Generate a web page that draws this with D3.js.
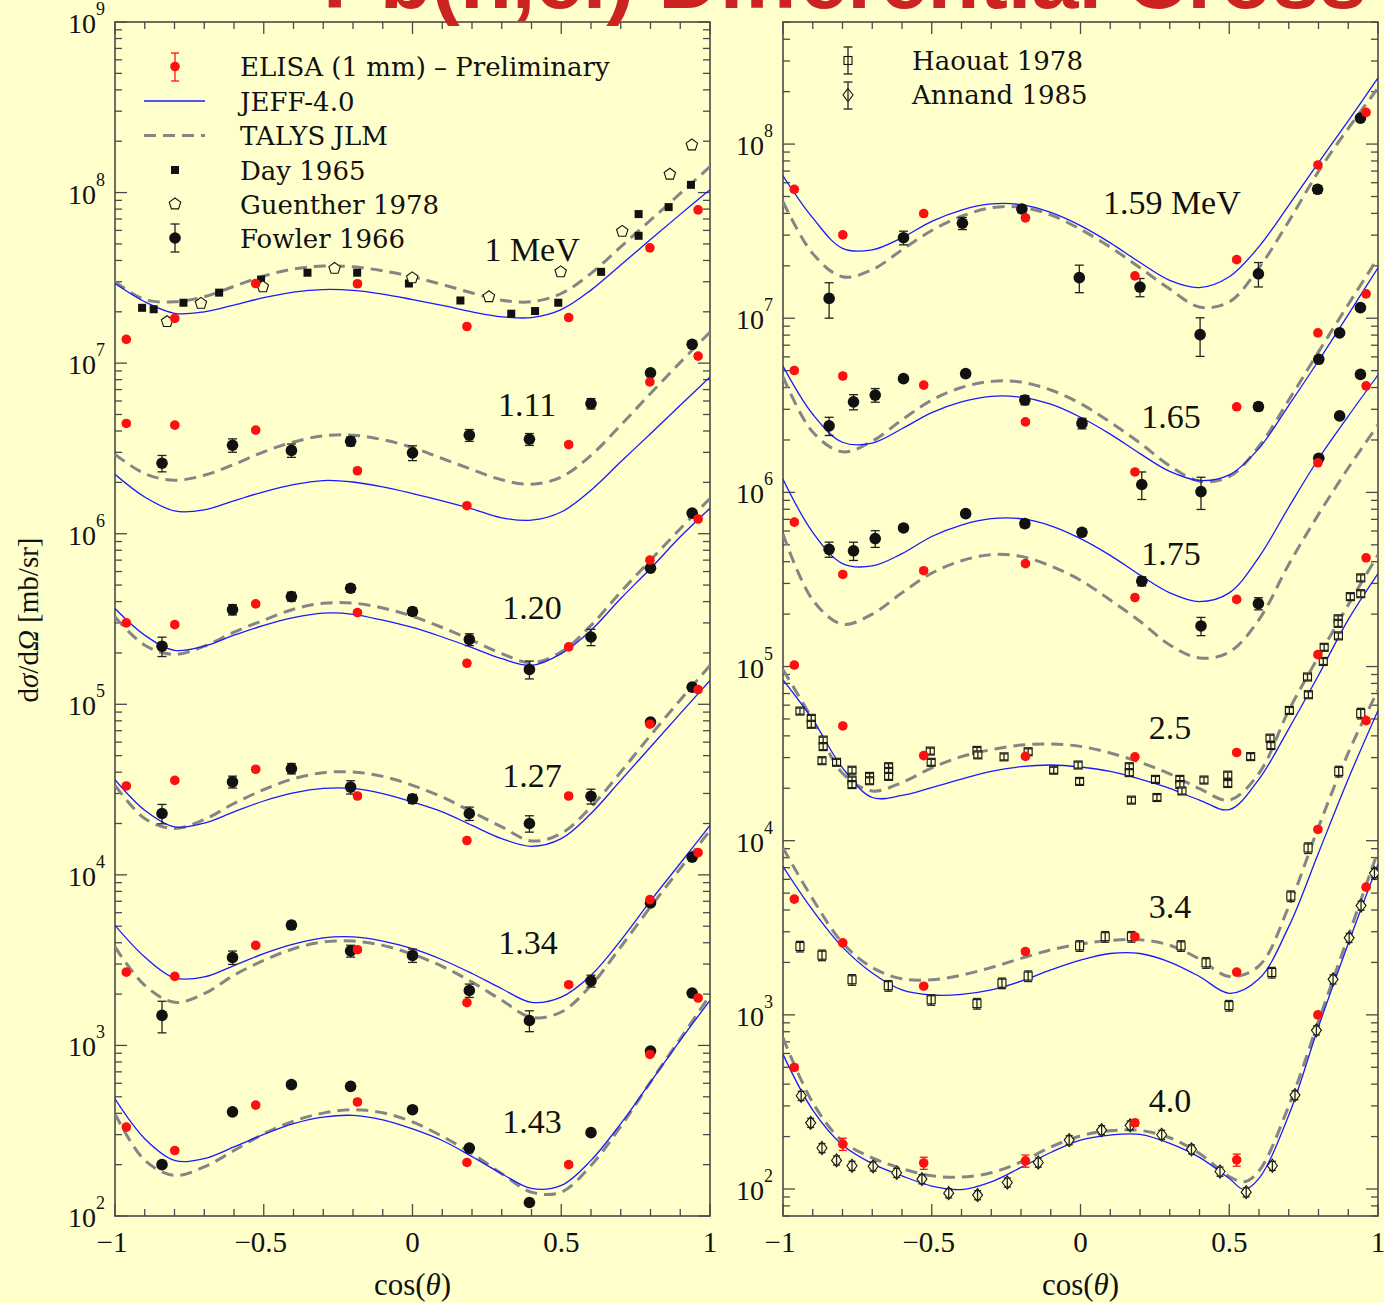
<!DOCTYPE html>
<html><head><meta charset="utf-8">
<script src="https://cdn.jsdelivr.net/npm/d3@7"></script>
<style>html,body{margin:0;padding:0;background:#ffffcc;} svg{display:block}</style>
</head><body>
<script>
// ---------------- DATA ----------------
const curveCos = [-1,-0.9,-0.8,-0.7,-0.6,-0.5,-0.4,-0.3,-0.2,-0.1,0,0.1,0.2,0.3,0.4,0.5,0.6,0.7,0.8,0.9,1];
const curveCos40 = [-1,-0.9,-0.8,-0.7,-0.6,-0.5,-0.4,-0.3,-0.2,-0.1,0,0.1,0.2,0.3,0.4,0.5,0.55,0.6,0.7,0.8,0.9,1];

// JEFF-4.0 (blue) and TALYS JLM (dashed) curves, mb/sr
const jeff100 = [2.93e7,2.29e7,1.96e7,2.00e7,2.19e7,2.42e7,2.61e7,2.70e7,2.67e7,2.54e7,2.36e7,2.18e7,2.00e7,1.87e7,1.85e7,2.06e7,2.68e7,3.76e7,5.31e7,7.45e7,1.04e8];
const talys100 = [3.00e7,2.36e7,2.29e7,2.45e7,2.82e7,3.24e7,3.56e7,3.71e7,3.67e7,3.48e7,3.21e7,2.89e7,2.58e7,2.34e7,2.29e7,2.56e7,3.36e7,4.81e7,6.89e7,9.88e7,1.42e8];
const jeff111 = [2.23e6,1.64e6,1.36e6,1.38e6,1.56e6,1.76e6,1.94e6,2.05e6,2.01e6,1.88e6,1.72e6,1.56e6,1.40e6,1.24e6,1.20e6,1.34e6,1.80e6,2.64e6,3.86e6,5.66e6,8.31e6];
const talys111 = [2.92e6,2.25e6,2.06e6,2.20e6,2.55e6,3.02e6,3.45e6,3.75e6,3.78e6,3.56e6,3.20e6,2.76e6,2.38e6,2.07e6,1.95e6,2.15e6,2.88e6,4.33e6,6.64e6,1.01e7,1.52e7];
const jeff120 = [3.64e5,2.54e5,2.07e5,2.19e5,2.54e5,2.90e5,3.22e5,3.42e5,3.37e5,3.11e5,2.82e5,2.48e5,2.15e5,1.85e5,1.69e5,1.98e5,2.72e5,4.17e5,6.25e5,9.59e5,1.41e6];
const talys120 = [3.25e5,2.22e5,1.96e5,2.19e5,2.65e5,3.11e5,3.61e5,3.91e5,3.92e5,3.67e5,3.28e5,2.82e5,2.37e5,1.98e5,1.75e5,2.03e5,2.90e5,4.56e5,7.00e5,1.07e6,1.61e6];
const jeff127 = [3.61e4,2.39e4,1.91e4,2.01e4,2.34e4,2.71e4,3.02e4,3.21e4,3.21e4,2.99e4,2.67e4,2.34e4,1.95e4,1.63e4,1.47e4,1.63e4,2.29e4,3.58e4,5.62e4,8.81e4,1.38e5];
const talys127 = [3.35e4,2.14e4,1.87e4,2.11e4,2.62e4,3.16e4,3.66e4,3.97e4,4.01e4,3.78e4,3.35e4,2.86e4,2.34e4,1.91e4,1.58e4,1.75e4,2.50e4,4.01e4,6.58e4,1.06e5,1.69e5];
const jeff134 = [5.06e3,3.30e3,2.49e3,2.52e3,2.94e3,3.45e3,3.92e3,4.27e3,4.33e3,4.09e3,3.69e3,3.18e3,2.64e3,2.15e3,1.79e3,1.92e3,2.58e3,4.13e3,7.03e3,1.17e4,1.95e4];
const talys134 = [3.78e3,2.25e3,1.79e3,2.01e3,2.58e3,3.15e3,3.69e3,4.04e3,4.09e3,3.86e3,3.42e3,2.91e3,2.35e3,1.84e3,1.46e3,1.57e3,2.25e3,3.78e3,6.49e3,1.09e4,1.82e4];
const jeff143 = [486,284,212,217,254,301,348,380,389,366,324,277,223,177,145,151,212,348,610,1072,1837];
const talys143 = [397,212,173,194,242,303,360,401,420,403,356,293,232,177,138,138,198,335,610,1094,1968];
const jeff159 = [6.58e7,3.77e7,2.52e7,2.47e7,2.90e7,3.60e7,4.18e7,4.53e7,4.49e7,4.05e7,3.40e7,2.71e7,2.09e7,1.65e7,1.50e7,1.73e7,2.58e7,4.45e7,7.83e7,1.36e8,2.40e8];
const talys159 = [4.67e7,2.35e7,1.73e7,1.90e7,2.47e7,3.19e7,3.85e7,4.31e7,4.35e7,3.92e7,3.24e7,2.56e7,1.95e7,1.47e7,1.16e7,1.24e7,1.95e7,3.60e7,6.97e7,1.23e8,2.10e8];
const jeff165 = [5.31e6,2.81e6,1.94e6,1.92e6,2.32e6,2.87e6,3.31e6,3.56e6,3.52e6,3.21e6,2.70e6,2.16e6,1.67e6,1.32e6,1.17e6,1.26e6,1.79e6,3.16e6,5.70e6,1.05e7,1.95e7];
const talys165 = [4.61e6,2.22e6,1.71e6,1.97e6,2.61e6,3.39e6,4.00e6,4.34e6,4.30e6,3.87e6,3.24e6,2.53e6,1.92e6,1.42e6,1.16e6,1.23e6,1.84e6,3.39e6,6.41e6,1.20e7,2.22e7];
const jeff175 = [1.19e6,5.90e5,3.90e5,3.78e5,4.45e5,5.58e5,6.49e5,7.06e5,7.06e5,6.43e5,5.43e5,4.35e5,3.35e5,2.65e5,2.36e5,2.65e5,4.25e5,8.22e5,1.56e6,2.74e6,4.72e6];
const talys175 = [5.77e5,2.41e5,1.75e5,2.00e5,2.65e5,3.44e5,4.05e5,4.39e5,4.29e5,3.78e5,3.13e5,2.41e5,1.82e5,1.33e5,1.12e5,1.21e5,1.86e5,3.86e5,7.48e5,1.38e6,2.44e6];
const jeff250 = [8.37e4,4.95e4,2.62e4,1.77e4,1.82e4,2.02e4,2.26e4,2.50e4,2.66e4,2.72e4,2.65e4,2.50e4,2.26e4,2.00e4,1.71e4,1.51e4,2.26e4,4.39e4,8.91e4,1.86e5,3.42e5];
const talys250 = [9.59e4,4.95e4,2.44e4,1.93e4,2.16e4,2.62e4,3.04e4,3.33e4,3.54e4,3.59e4,3.48e4,3.19e4,2.82e4,2.42e4,1.99e4,1.71e4,2.44e4,5.60e4,1.14e5,2.26e5,4.38e5];
const jeff340 = [7.11e3,3.99e3,2.45e3,1.74e3,1.39e3,1.30e3,1.31e3,1.39e3,1.56e3,1.81e3,2.06e3,2.25e3,2.25e3,2.01e3,1.66e3,1.33e3,1.61e3,3.21e3,8.51e3,2.26e4,5.60e4];
const talys340 = [9.08e3,4.62e3,2.59e3,1.87e3,1.61e3,1.59e3,1.69e3,1.87e3,2.11e3,2.36e3,2.55e3,2.67e3,2.70e3,2.51e3,2.09e3,1.66e3,1.91e3,4.19e3,1.20e4,3.19e4,7.33e4];
const jeff400 = [593,284,179,140,119,104,99.3,110,133,162,191,204,206,183,152,115,99.3,115,265,855,2570,7360];
const talys400 = [738,313,188,151,131,119,117,124,143,174,202,216,217,197,160,118,110,127,300,920,2830,8730];

// ELISA (1 mm) - Preliminary
const elisaCos = [-0.962,-0.799,-0.527,-0.185,0.183,0.525,0.798,0.960];
const elisa100 = [1.38e7,1.83e7,2.93e7,2.92e7,1.64e7,1.85e7,4.74e7,7.92e7];
const elisa111 = [4.43e6,4.33e6,4.05e6,2.34e6,1.46e6,3.33e6,7.76e6,1.10e7];
const elisa120 = [3.00e5,2.93e5,3.88e5,3.45e5,1.74e5,2.17e5,7.00e5,1.22e6];
const elisa127 = [3.32e4,3.58e4,4.16e4,2.90e4,1.59e4,2.90e4,7.64e4,1.22e5];
const elisa134 = [2.69e3,2.54e3,3.86e3,3.64e3,1.78e3,2.27e3,7.16e3,1.35e4];
const elisa143 = [332,242,447,466,206,200,885,1897];
const elisa159 = [5.50e7,3.01e7,3.99e7,3.77e7,1.75e7,2.17e7,7.59e7,1.52e8];
const elisa165 = [5.01e6,4.66e6,4.13e6,2.54e6,1.31e6,3.10e6,8.24e6,1.38e7];
const elisa175 = [6.75e5,3.38e5,3.55e5,3.90e5,2.49e5,2.43e5,1.48e6,4.09e6];
const elisa250 = [1.02e5,4.56e4,3.08e4,3.05e4,3.03e4,3.21e4,1.17e5,4.21e5];
const elisa340 = [4.62e3,2.59e3,1.46e3,2.31e3,2.81e3,1.76e3,1.16e4,4.89e4];
const elisa400 = [499,181,141,145,240,147,1000,5410];
const elisaErrPct = [3,3,3,3,3,3,3,3];
const elisaErrPct400 = [4,8,8,8,4,8,3,3];

// Fowler 1966
const fowlerCosL = [-0.842,-0.605,-0.407,-0.208,0.0,0.191,0.393,0.600,0.800,0.940];
const fowler111 = [2.59e6,3.30e6,3.08e6,3.48e6,2.98e6,3.78e6,3.58e6,5.79e6,8.77e6,1.29e7];
const fowlerErr111 = [11,9,9,6,10,8,8,7,3,3];
const fowler120 = [2.19e5,3.59e5,4.28e5,4.79e5,3.50e5,2.40e5,1.60e5,2.48e5,6.28e5,1.32e6];
const fowlerErr120 = [13,7,6,5,5,8,12,11,3,3];
const fowler127 = [2.29e4,3.51e4,4.20e4,3.27e4,2.79e4,2.29e4,2.00e4,2.89e4,7.87e4,1.26e5];
const fowlerErr127 = [13,8,7,9,6,9,11,10,3,3];
const fowler134 = [1.50e3,3.28e3,5.08e3,3.58e3,3.37e3,2.10e3,1.40e3,2.39e3,6.84e3,1.27e4];
const fowlerErr134 = [21,9,5,8,9,9,14,8,3,3];
const fowler143 = [200,408,589,575,420,250,120,308,927,2028];
const fowlerErr143 = [0,0,0,0,0,0,0,0,0,0];
const fowlerCos159 = [-0.845,-0.595,-0.397,-0.197,-0.004,0.200,0.402,0.598,0.797,0.941];
const fowler159 = [1.30e7,2.90e7,3.51e7,4.24e7,1.71e7,1.51e7,8.05e6,1.80e7,5.50e7,1.41e8];
const fowlerErr159 = [23,9,8,5,18,12,25,16,5,3];
const fowlerCos16x = [-0.845,-0.763,-0.690,-0.595,-0.386,-0.187,0.005,0.206,0.405,0.598,0.801,0.871,0.941];
const fowler165 = [2.41e6,3.31e6,3.62e6,4.50e6,4.81e6,3.39e6,2.49e6,1.11e6,1.01e6,3.11e6,5.81e6,8.24e6,1.15e7];
const fowlerErr165 = [12,10,9,4,4,6,7,18,21,5,4,3,3];
const fowler175 = [4.71e5,4.62e5,5.43e5,6.25e5,7.55e5,6.62e5,5.90e5,3.09e5,1.71e5,2.30e5,1.57e6,2.75e6,4.76e6];
const fowlerErr175 = [10,12,11,4,4,5,4,6,12,8,3,3,3];

// Day 1965 and Guenther 1978 (1 MeV)
const dayCos = [-0.909,-0.870,-0.770,-0.650,-0.509,-0.353,-0.186,-0.012,0.161,0.332,0.412,0.490,0.634,0.760,0.760,0.861,0.936];
const day100 = [2.11e7,2.07e7,2.26e7,2.59e7,3.09e7,3.39e7,3.39e7,2.93e7,2.33e7,1.95e7,2.02e7,2.26e7,3.43e7,5.58e7,7.48e7,8.22e7,1.11e8];
const guentherCos = [-0.825,-0.711,-0.503,-0.262,-0.001,0.257,0.498,0.705,0.865,0.939];
const guenther100 = [1.75e7,2.24e7,2.80e7,3.59e7,3.16e7,2.45e7,3.43e7,5.92e7,1.28e8,1.90e8];

// Haouat 1978 (2.5 and 3.4 MeV)
const haouatCos250 = [-0.943,-0.905,-0.905,-0.865,-0.865,-0.869,-0.820,-0.768,-0.768,-0.768,-0.709,-0.709,-0.645,-0.645,-0.645,-0.505,-0.502,-0.348,-0.345,-0.257,-0.176,-0.090,-0.008,-0.003,0.164,0.164,0.171,0.252,0.257,0.334,0.334,0.341,0.415,0.495,0.495,0.572,0.637,0.640,0.702,0.763,0.766,0.816,0.819,0.866,0.866,0.867,0.907,0.942,0.942];
const haouat250 = [5.55e4,5.04e4,4.66e4,3.78e4,3.47e4,2.88e4,2.82e4,2.54e4,2.23e4,2.10e4,2.34e4,2.21e4,2.66e4,2.50e4,2.34e4,3.27e4,2.82e4,3.30e4,3.11e4,3.03e4,3.24e4,2.54e4,2.72e4,2.19e4,2.66e4,2.46e4,1.71e4,2.25e4,1.77e4,2.25e4,2.10e4,1.93e4,2.23e4,2.38e4,2.13e4,3.04e4,3.88e4,3.52e4,5.60e4,8.71e4,6.89e4,1.07e5,1.29e5,1.88e5,1.77e5,1.50e5,2.52e5,3.23e5,2.62e5];
const haouatCos340 = [-0.943,-0.869,-0.768,-0.646,-0.502,-0.348,-0.264,-0.176,-0.003,0.083,0.171,0.338,0.422,0.499,0.643,0.707,0.765,0.868,0.942];
const haouat340 = [2.47e3,2.20e3,1.59e3,1.47e3,1.22e3,1.16e3,1.52e3,1.67e3,2.49e3,2.81e3,2.81e3,2.49e3,1.99e3,1.13e3,1.75e3,4.81e3,9.08e3,2.50e4,5.38e4];
const haouatErrPct250 = 4, haouatErrPct340 = 7;

// Annand 1985 (4.0 MeV)
const annandCos = [-0.939,-0.907,-0.869,-0.820,-0.768,-0.697,-0.618,-0.533,-0.443,-0.346,-0.246,-0.142,-0.038,0.071,0.167,0.273,0.373,0.469,0.557,0.645,0.721,0.793,0.849,0.903,0.943,0.988];
const annand400 = [343,240,172,146,136,135,124,114,94.6,92.3,109,142,191,218,232,205,169,126,95.9,136,346,815,1600,2770,4240,6520];
const annandErrPct = 6;

// Energy labels and their anchor (cos, value) in data space
const labelsLeft = ["1 MeV","1.11","1.20","1.27","1.34","1.43"];
const labelCosLeft = [0.402,0.385,0.402,0.402,0.388,0.402];
const labelValLeft = [3.96e7,4.91e6,3.16e5,3.27e4,3.45e3,306];
const labelsRight = ["1.59 MeV","1.65","1.75","2.5","3.4","4.0"];
const labelCosRight = [0.307,0.304,0.304,0.301,0.301,0.301];
const labelValRight = [3.99e7,2.34e6,3.81e5,3.84e4,3.60e3,275];

// axes
const xTickValues = [-1,-0.5,0,0.5,1];
const xTickLabels = ["\u22121","\u22120.5","0","0.5","1"];
const yExpLeft = [2,3,4,5,6,7,8,9];
const yExpRight = [2,3,4,5,6,7,8];

// ---------------- TABLES ----------------
const setsLeft = [
  {jeff:jeff100,talys:talys100,elisa:elisa100},
  {jeff:jeff111,talys:talys111,elisa:elisa111,fowler:fowler111,ferr:fowlerErr111,fcos:fowlerCosL},
  {jeff:jeff120,talys:talys120,elisa:elisa120,fowler:fowler120,ferr:fowlerErr120,fcos:fowlerCosL},
  {jeff:jeff127,talys:talys127,elisa:elisa127,fowler:fowler127,ferr:fowlerErr127,fcos:fowlerCosL},
  {jeff:jeff134,talys:talys134,elisa:elisa134,fowler:fowler134,ferr:fowlerErr134,fcos:fowlerCosL},
  {jeff:jeff143,talys:talys143,elisa:elisa143,fowler:fowler143,ferr:fowlerErr143,fcos:fowlerCosL}
];
const setsRight = [
  {jeff:jeff159,talys:talys159,elisa:elisa159,fowler:fowler159,ferr:fowlerErr159,fcos:fowlerCos159},
  {jeff:jeff165,talys:talys165,elisa:elisa165,fowler:fowler165,ferr:fowlerErr165,fcos:fowlerCos16x},
  {jeff:jeff175,talys:talys175,elisa:elisa175,fowler:fowler175,ferr:fowlerErr175,fcos:fowlerCos16x},
  {jeff:jeff250,talys:talys250,elisa:elisa250},
  {jeff:jeff340,talys:talys340,elisa:elisa340},
  {jeff:jeff400,talys:talys400,elisa:elisa400,cos:curveCos40,eerr:elisaErrPct400}
];

// ---------------- DRAW ----------------
const W = 1384, H = 1303;
const TOP = 22, BOT = 1216;
const SERIF = "'Liberation Serif','Times New Roman',serif";
const LSERIF = "'DejaVu Serif',serif";
const FRAME = "#4a4a4a";

const svg = d3.select("body").append("svg").attr("width", W).attr("height", H);
svg.append("rect").attr("width", W).attr("height", H).attr("fill", "#ffffcc");

function makePanel(x0, x1, dom, id) {
  const x = d3.scaleLinear().domain([-1, 1]).range([x0, x1]);
  const y = d3.scaleLog().domain(dom).range([BOT, TOP]);
  svg.append("clipPath").attr("id", id).append("rect")
    .attr("x", x0).attr("y", TOP).attr("width", x1 - x0).attr("height", BOT - TOP);
  return {x, y, x0, x1, id};
}
const PL = makePanel(115, 710, [100, 1e9], "clipL");
const PR = makePanel(783, 1378, [Math.pow(10, 1.845), Math.pow(10, 8.701)], "clipR");

function drawAxes(P, exps) {
  const g = svg.append("g").attr("stroke", FRAME).attr("stroke-width", 1.3);
  // x ticks (top and bottom, inside)
  P.x.ticks(20).forEach(v => {
    const major = Math.abs(v * 2 - Math.round(v * 2)) < 1e-6;
    const len = major ? 12 : 7;
    const xx = P.x(v);
    g.append("line").attr("x1", xx).attr("x2", xx).attr("y1", BOT).attr("y2", BOT - len);
    g.append("line").attr("x1", xx).attr("x2", xx).attr("y1", TOP).attr("y2", TOP + len);
  });
  // y ticks (left and right, inside)
  const [d0, d1] = P.y.domain();
  const k0 = Math.floor(Math.log10(d0)), k1 = Math.ceil(Math.log10(d1));
  for (let k = k0; k <= k1; k++) {
    for (let m = 1; m <= 9; m++) {
      const v = m * Math.pow(10, k);
      if (v < d0 * 0.9999 || v > d1 * 1.0001) continue;
      const yy = P.y(v);
      const len = m === 1 ? 12 : 7;
      g.append("line").attr("x1", P.x0).attr("x2", P.x0 + len).attr("y1", yy).attr("y2", yy);
      g.append("line").attr("x1", P.x1).attr("x2", P.x1 - len).attr("y1", yy).attr("y2", yy);
    }
  }
  g.append("rect").attr("x", P.x0).attr("y", TOP).attr("width", P.x1 - P.x0).attr("height", BOT - TOP)
    .attr("fill", "none").attr("stroke-width", 1.6);

  // y labels
  exps.forEach(e => {
    const yy = P.y(Math.pow(10, e));
    const t = svg.append("text").attr("x", P.x0 - 10).attr("y", yy + 11)
      .attr("text-anchor", "end").attr("font-family", SERIF).attr("font-size", 28).attr("fill", "#111");
    t.append("tspan").text("10");
    t.append("tspan").attr("font-size", 18).attr("dy", -18).text(String(e));
  });
  // x labels
  xTickValues.forEach((v, i) => {
    svg.append("text").attr("x", P.x(v) - (v < 0 ? 3 : 0)).attr("y", 1252)
      .attr("text-anchor", "middle").attr("font-family", SERIF).attr("font-size", 29).attr("fill", "#111")
      .text(xTickLabels[i]);
  });
  // x title
  const xt = svg.append("text").attr("x", (P.x0 + P.x1) / 2).attr("y", 1295)
    .attr("text-anchor", "middle").attr("font-family", SERIF).attr("font-size", 31).attr("fill", "#111");
  xt.append("tspan").text("cos(");
  xt.append("tspan").attr("font-style", "italic").text("\u03b8");
  xt.append("tspan").text(")");
}

function errBar(g, x, y1, y2, color, w) {
  g.append("line").attr("x1", x).attr("x2", x).attr("y1", y1).attr("y2", y2).attr("stroke", color).attr("stroke-width", 1.3);
  g.append("line").attr("x1", x - w).attr("x2", x + w).attr("y1", y1).attr("y2", y1).attr("stroke", color).attr("stroke-width", 1.3);
  g.append("line").attr("x1", x - w).attr("x2", x + w).attr("y1", y2).attr("y2", y2).attr("stroke", color).attr("stroke-width", 1.3);
}

const pentagon = r => {
  const pts = d3.range(5).map(k => {
    const a = -Math.PI / 2 + k * 2 * Math.PI / 5;
    return [r * Math.cos(a), r * Math.sin(a)];
  });
  return "M" + pts.map(p => p.join(",")).join("L") + "Z";
};
const diamond = "M0,-6.5L5,0L0,6.5L-5,0Z";

function drawSets(P, sets) {
  const g = svg.append("g").attr("clip-path", `url(#${P.id})`);
  const line = d3.line().x(d => P.x(d[0])).y(d => P.y(d[1])).curve(d3.curveCatmullRom.alpha(0.5));
  sets.forEach(s => {
    const cc = s.cos || curveCos;
    g.append("path").attr("d", line(cc.map((c, i) => [c, s.talys[i]])))
      .attr("fill", "none").attr("stroke", "#858585").attr("stroke-width", 3).attr("stroke-dasharray", "12,7");
    g.append("path").attr("d", line(cc.map((c, i) => [c, s.jeff[i]])))
      .attr("fill", "none").attr("stroke", "#1a1aff").attr("stroke-width", 1.3);
  });
  return g;
}

function drawElisa(g, P, sets) {
  sets.forEach(s => {
    const er = s.eerr || elisaErrPct;
    s.elisa.forEach((v, i) => {
      const xx = P.x(elisaCos[i]);
      errBar(g, xx, P.y(v * (1 + er[i] / 100)), P.y(v * (1 - er[i] / 100)), "#ff1010", 4);
      g.append("circle").attr("cx", xx).attr("cy", P.y(v)).attr("r", 4.8).attr("fill", "#ff1010");
    });
  });
}
function drawFowler(g, P, sets) {
  sets.forEach(s => {
    if (!s.fowler) return;
    s.fowler.forEach((v, i) => {
      const xx = P.x(s.fcos[i]);
      if (s.ferr[i] > 0) errBar(g, xx, P.y(v * (1 + s.ferr[i] / 100)), P.y(v * (1 - s.ferr[i] / 100)), "#222", 4.5);
      g.append("circle").attr("cx", xx).attr("cy", P.y(v)).attr("r", 5.8).attr("fill", "#111");
    });
  });
}

drawAxes(PL, yExpLeft);
drawAxes(PR, yExpRight);

// Left panel
const gL = drawSets(PL, setsLeft);
dayCos.forEach((c, i) => {
  gL.append("rect").attr("x", PL.x(c) - 4).attr("y", PL.y(day100[i]) - 4).attr("width", 8).attr("height", 8).attr("fill", "#111");
});
guentherCos.forEach((c, i) => {
  gL.append("path").attr("d", pentagon(6)).attr("transform", `translate(${PL.x(c)},${PL.y(guenther100[i])})`)
    .attr("fill", "#ffffcc").attr("stroke", "#111").attr("stroke-width", 1.1);
});
drawFowler(gL, PL, setsLeft);
drawElisa(gL, PL, setsLeft);

// Right panel
const gR = drawSets(PR, setsRight);
function drawHaouat(cosArr, vals, pct) {
  cosArr.forEach((c, i) => {
    const xx = PR.x(c), v = vals[i];
    gR.append("rect").attr("x", xx - 4).attr("y", PR.y(v) - 4).attr("width", 8).attr("height", 8)
      .attr("fill", "#ffffcc").attr("stroke", "#111").attr("stroke-width", 1.1);
    errBar(gR, xx, PR.y(v * (1 + pct / 100)), PR.y(v * (1 - pct / 100)), "#222", 4);
  });
}
drawHaouat(haouatCos250, haouat250, haouatErrPct250);
drawHaouat(haouatCos340, haouat340, haouatErrPct340);
annandCos.forEach((c, i) => {
  const xx = PR.x(c), v = annand400[i];
  gR.append("path").attr("d", diamond).attr("transform", `translate(${xx},${PR.y(v)})`)
    .attr("fill", "#ffffcc").attr("stroke", "#111").attr("stroke-width", 1.1);
  errBar(gR, xx, PR.y(v * (1 + annandErrPct / 100)), PR.y(v * (1 - annandErrPct / 100)), "#222", 3.5);
});
drawFowler(gR, PR, setsRight);
drawElisa(gR, PR, setsRight);

// energy labels
labelsLeft.forEach((t, i) => {
  svg.append("text").attr("x", PL.x(labelCosLeft[i])).attr("y", PL.y(labelValLeft[i]))
    .attr("text-anchor", "middle").attr("font-family", SERIF).attr("font-size", 34).attr("fill", "#111").text(t);
});
labelsRight.forEach((t, i) => {
  svg.append("text").attr("x", PR.x(labelCosRight[i])).attr("y", PR.y(labelValRight[i]))
    .attr("text-anchor", "middle").attr("font-family", SERIF).attr("font-size", 34).attr("fill", "#111").text(t);
});

// y-axis title
const yt = svg.append("text").attr("transform", "translate(38,620) rotate(-90)")
  .attr("text-anchor", "middle").attr("font-family", SERIF).attr("font-size", 29).attr("fill", "#111");
yt.append("tspan").text("d");
yt.append("tspan").attr("font-style", "italic").text("\u03c3");
yt.append("tspan").text("/d");
yt.append("tspan").attr("font-style", "italic").text("\u03a9");
yt.append("tspan").text(" [mb/sr]");

// legends
const legL = svg.append("g");
const legText = (g, x, y, t) => g.append("text").attr("x", x).attr("y", y).attr("font-family", LSERIF)
  .attr("font-size", 26).attr("fill", "#111").text(t);
errBar(legL, 175, 53, 81, "#ff1010", 4);
legL.append("circle").attr("cx", 175).attr("cy", 66.5).attr("r", 4.8).attr("fill", "#ff1010");
legText(legL, 240, 76, "ELISA (1 mm) \u2013 Preliminary");
legL.append("line").attr("x1", 144).attr("x2", 205).attr("y1", 101).attr("y2", 101).attr("stroke", "#1a1aff").attr("stroke-width", 1.3);
legText(legL, 240, 111, "JEFF-4.0");
legL.append("line").attr("x1", 144).attr("x2", 205).attr("y1", 135.5).attr("y2", 135.5).attr("stroke", "#858585").attr("stroke-width", 3).attr("stroke-dasharray", "12,7");
legText(legL, 240, 145, "TALYS JLM");
legL.append("rect").attr("x", 171).attr("y", 166).attr("width", 8).attr("height", 8).attr("fill", "#111");
legText(legL, 240, 179.5, "Day 1965");
legL.append("path").attr("d", pentagon(6)).attr("transform", "translate(175,204)").attr("fill", "#ffffcc").attr("stroke", "#111").attr("stroke-width", 1.1);
legText(legL, 240, 213.5, "Guenther 1978");
errBar(legL, 175, 224, 252, "#222", 4.5);
legL.append("circle").attr("cx", 175).attr("cy", 238).attr("r", 5.8).attr("fill", "#111");
legText(legL, 240, 248, "Fowler 1966");

const legR = svg.append("g");
legR.append("rect").attr("x", 844).attr("y", 56.5).attr("width", 8).attr("height", 8).attr("fill", "#ffffcc").attr("stroke", "#111").attr("stroke-width", 1.1);
errBar(legR, 848, 47, 74, "#222", 4.5);
legText(legR, 912, 70, "Haouat 1978");
legR.append("path").attr("d", diamond).attr("transform", "translate(848,95)").attr("fill", "#ffffcc").attr("stroke", "#111").attr("stroke-width", 1.1);
errBar(legR, 848, 82, 109, "#222", 4.5);
legText(legR, 912, 104, "Annand 1985");

// title (cut by the top edge)
svg.append("text").attr("x", 323).attr("y", 8).attr("font-family", "'Liberation Sans',Arial,sans-serif")
  .attr("font-weight", "bold").attr("font-size", 85).attr("fill", "#cc2222")
  .text("Pb(n,el) Differential Cross Section");
</script>
</body></html>
